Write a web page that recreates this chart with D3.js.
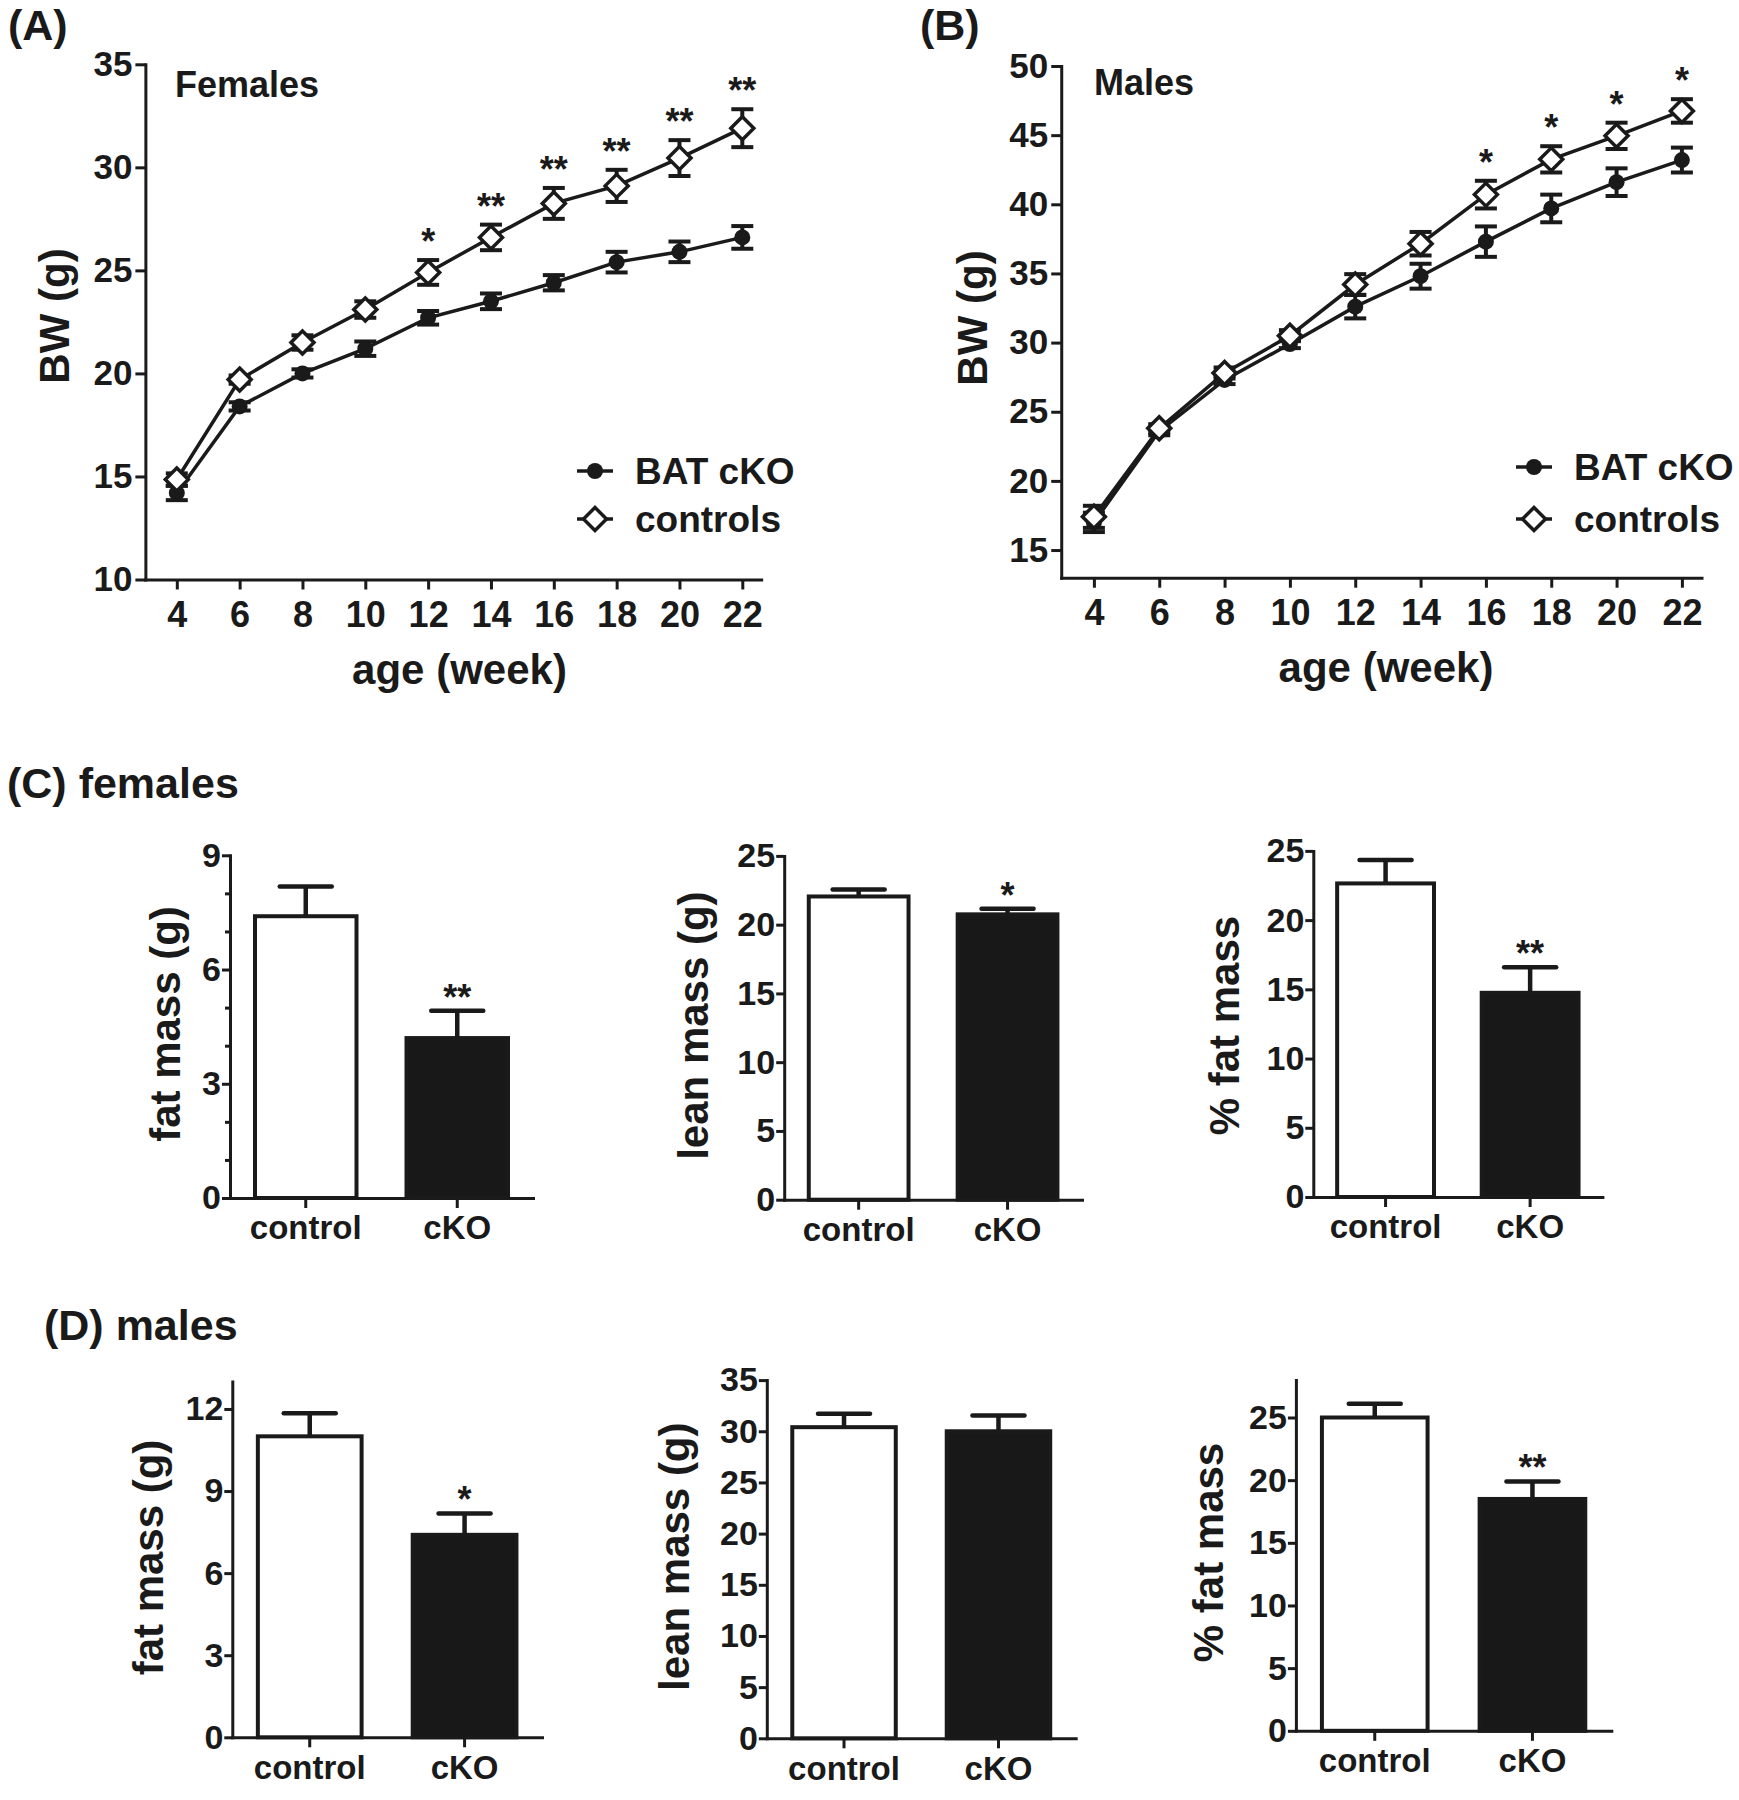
<!DOCTYPE html>
<html><head><meta charset="utf-8">
<script src="https://cdn.jsdelivr.net/npm/d3@7"></script>
<style>
body{margin:0;background:#fff;}
svg text{font-family:"Liberation Sans",Arial,Helvetica,sans-serif;font-weight:bold;fill:#1a1a1a;}
</style></head><body>
<svg id="fig" width="1739" height="1800"></svg>
<script>
// ---------- data ----------
const weeks=[4,6,8,10,12,14,16,18,20,22];
const femaleCKO=[14.2,18.4,20.0,21.2,22.7,23.5,24.4,25.4,25.9,26.6];
const femaleCKOErr=[0.35,0.2,0.2,0.35,0.33,0.38,0.37,0.5,0.5,0.55];
const femaleCtrl=[14.85,19.7,21.5,23.1,24.9,26.6,28.25,29.1,30.45,31.9];
const femaleCtrlErr=[0.3,0.2,0.35,0.4,0.6,0.62,0.75,0.78,0.87,0.92];
const femaleSig=["","","","","*","**","**","**","**","**"];
const maleCKO=[17.0,23.6,27.3,29.9,32.6,34.8,37.3,39.7,41.6,43.2];
const maleCKOErr=[0.7,0.3,0.3,0.3,0.85,0.9,1.1,1.0,1.0,0.9];
const maleCtrl=[17.4,23.8,27.8,30.5,34.2,37.15,40.7,43.25,44.95,46.75];
const maleCtrlErr=[0.8,0.3,0.4,0.4,0.75,0.85,1.0,0.95,0.95,0.85];
const maleSig=["","","","","","","*","*","*","*"];
const weekDomain=[3,22.6];
const femaleYTicks=[10,15,20,25,30,35];
const maleYTicks=[15,20,25,30,35,40,45,50];
const legendLabels=["BAT cKO","controls"];

const groups=["control","cKO"];
const femaleFat=[7.4,4.2], femaleFatErr=[0.78,0.72], femaleFatSig=["","**"];
const femaleLean=[22.05,20.75], femaleLeanErr=[0.5,0.4], femaleLeanSig=["","*"];
const femalePct=[22.65,14.75], femalePctErr=[1.7,1.85], femalePctSig=["","**"];
const maleFat=[11.0,7.4], maleFatErr=[0.84,0.78], maleFatSig=["","*"];
const maleLean=[30.4,30.0], maleLeanErr=[1.3,1.55], maleLeanSig=["",""];
const malePct=[25.0,18.5], malePctErr=[1.1,1.4], malePctSig=["","**"];

// ---------- drawing ----------
const INK="#1a1a1a";
const svg=d3.select("#fig");

function styleAxis(g,fs,w){
  g.attr("font-size",fs);
  g.select(".domain").attr("stroke",INK).attr("stroke-width",w).attr("stroke-linecap","square");
  g.selectAll(".tick line").attr("stroke",INK).attr("stroke-width",w);
  g.selectAll(".tick text").attr("fill",INK);
}
function txt(x,y,s,fs,anchor){
  return svg.append("text").attr("x",x).attr("y",y).attr("font-size",fs)
    .attr("text-anchor",anchor||"start").text(s);
}
function vtxt(cx,cy,s,fs){
  svg.append("text").attr("transform",`translate(${cx},${cy}) rotate(-90)`)
    .attr("text-anchor","middle").attr("dy","0.35em").attr("font-size",fs).text(s);
}

function linePanel(o){
  // o.x4 / o.x22: pixel positions of week 4 and week 22
  const pw=(o.x22-o.x4)/18;
  const x=d3.scaleLinear().domain(weekDomain)
    .range([o.x4+(weekDomain[0]-4)*pw, o.x4+(weekDomain[1]-4)*pw]);
  const left=x(weekDomain[0]), right=x(weekDomain[1]);
  const y=d3.scaleLinear().domain(o.yDomain).range([o.bottom,o.top]);
  const g=svg.append("g");
  const series=[
    {v:o.cko,e:o.ckoErr,type:"circle"},
    {v:o.ctrl,e:o.ctrlErr,type:"diamond"}
  ];
  const line=d3.line().x((d,i)=>x(weeks[i])).y(d=>y(d));
  series.forEach(s=>{
    g.append("path").datum(s.v).attr("d",line).attr("fill","none")
      .attr("stroke",INK).attr("stroke-width",3.5);
  });
  series.forEach(s=>{
    const eb=g.append("g");
    s.v.forEach((m,i)=>{
      const cx=x(weeks[i]);
      eb.append("line").attr("x1",cx).attr("x2",cx).attr("y1",y(m-s.e[i])).attr("y2",y(m+s.e[i]))
        .attr("stroke",INK).attr("stroke-width",4);
      [m-s.e[i],m+s.e[i]].forEach(v=>eb.append("line").attr("x1",cx-11).attr("x2",cx+11)
        .attr("y1",y(v)).attr("y2",y(v)).attr("stroke",INK).attr("stroke-width",4));
    });
  });
  const diamond=(cx,cy,r)=>`M${cx},${cy-r}L${cx+r},${cy}L${cx},${cy+r}L${cx-r},${cy}Z`;
  series.forEach(s=>{
    s.v.forEach((m,i)=>{
      const cx=x(weeks[i]), cy=y(m);
      if(s.type==="circle") g.append("circle").attr("cx",cx).attr("cy",cy).attr("r",8).attr("fill",INK);
      else g.append("path").attr("d",diamond(cx,cy,11.5)).attr("fill","#fff").attr("stroke",INK).attr("stroke-width",3.5);
    });
  });
  // significance
  o.sig.forEach((s,i)=>{
    if(!s) return;
    g.append("text").attr("x",x(weeks[i])).attr("y",y(o.ctrl[i]+o.ctrlErr[i])-6)
      .attr("text-anchor","middle").attr("font-size",36).text(s);
  });
  // axes
  const xa=svg.append("g").attr("transform",`translate(0,${o.bottom})`)
    .call(d3.axisBottom(x).tickValues(weeks).tickSize(10).tickSizeOuter(0).tickPadding(12));
  styleAxis(xa,36,3);
  const ya=svg.append("g").attr("transform",`translate(${left},0)`)
    .call(d3.axisLeft(y).tickValues(o.yTicks).tickSize(10).tickSizeOuter(0).tickPadding(3));
  styleAxis(ya,35,3);
  // labels
  txt(o.ageX,o.bottom+104,"age (week)",42,"middle");
  vtxt(o.ylabX,o.ylabY,"BW (g)",42);
  txt(o.panelX,40,o.panel,43);
  txt(o.titleX,o.titleY,o.title,36);
  // legend
  const lg=svg.append("g");
  [0,1].forEach(k=>{
    const ly=o.legY[k];
    lg.append("line").attr("x1",o.legX).attr("x2",o.legX+36).attr("y1",ly).attr("y2",ly)
      .attr("stroke",INK).attr("stroke-width",3.5);
    const mx=o.legX+18;
    if(k===0) lg.append("circle").attr("cx",mx).attr("cy",ly).attr("r",8).attr("fill",INK);
    else lg.append("path").attr("d",diamond(mx,ly,11.5)).attr("fill","#fff").attr("stroke",INK).attr("stroke-width",3.5);
    lg.append("text").attr("x",o.legX+58).attr("y",ly+13).attr("font-size",37).text(legendLabels[k]);
  });
}

linePanel({x4:176.8,x22:742.3,top:64.3,bottom:579.5,yDomain:[10,35],yTicks:femaleYTicks,
  cko:femaleCKO,ckoErr:femaleCKOErr,ctrl:femaleCtrl,ctrlErr:femaleCtrlErr,sig:femaleSig,
  ageX:459.5,ylabX:54,ylabY:316,panel:"(A)",panelX:8,title:"Females",titleX:175,titleY:97,
  legX:577,legY:[471,519]});
linePanel({x4:1093.9,x22:1681.9,top:66,bottom:577.7,yDomain:[13,50],yTicks:maleYTicks,
  cko:maleCKO,ckoErr:maleCKOErr,ctrl:maleCtrl,ctrlErr:maleCtrlErr,sig:maleSig,
  ageX:1386,ylabX:972.5,ylabY:318,panel:"(B)",panelX:920,title:"Males",titleX:1094,titleY:95,
  legX:1516,legY:[467,519]});

function barPanel(o){
  const x=d3.scaleBand().domain(groups).range([o.left,o.right]).paddingInner(0.33).paddingOuter(0.165);
  const y=d3.scaleLinear().domain(o.yDomain).range([o.bottom,o.top]);
  const g=svg.append("g");
  const bw=x.bandwidth();
  groups.forEach((k,i)=>{
    const v=o.vals[i], e=o.errs[i], cx=x(k)+bw/2;
    g.append("line").attr("x1",cx).attr("x2",cx).attr("y1",y(v)).attr("y2",y(v+e))
      .attr("stroke",INK).attr("stroke-width",4.5);
    g.append("line").attr("x1",cx-26).attr("x2",cx+26).attr("y1",y(v+e)).attr("y2",y(v+e))
      .attr("stroke",INK).attr("stroke-width",4.5).attr("stroke-linecap","round");
    g.append("rect").attr("x",x(k)).attr("width",bw).attr("y",y(v)).attr("height",y(o.yDomain[0])-y(v))
      .attr("fill",i===0?"#fff":"#181818").attr("stroke",INK).attr("stroke-width",4);
    if(o.sig[i]) g.append("text").attr("x",cx).attr("y",y(v+e)-1).attr("text-anchor","middle")
      .attr("font-size",36).text(o.sig[i]);
  });
  if(o.minor){
    const ma=svg.append("g").attr("transform",`translate(${o.left},0)`)
      .call(d3.axisLeft(y).tickValues(o.minor).tickSize(5).tickFormat(""));
    ma.select(".domain").remove();
    ma.selectAll(".tick line").attr("stroke",INK).attr("stroke-width",3);
  }
  const ya=svg.append("g").attr("transform",`translate(${o.left},0)`)
    .call(d3.axisLeft(y).tickValues(o.yTicks).tickSize(8).tickSizeOuter(0).tickPadding(1));
  styleAxis(ya,34,3);
  const xa=svg.append("g").attr("transform",`translate(0,${o.bottom})`)
    .call(d3.axisBottom(x).tickSize(10).tickSizeOuter(0).tickPadding(8));
  styleAxis(xa,33,3);
  vtxt(o.labX,o.labY,o.label,42);
}

barPanel({left:230,right:533,top:855.3,bottom:1198,yDomain:[0,9],yTicks:[0,3,6,9],minor:[1,2,4,5,7,8],
  vals:femaleFat,errs:femaleFatErr,sig:femaleFatSig,label:"fat mass (g)",labX:165,labY:1024});
barPanel({left:784.2,right:1082,top:855.9,bottom:1199.7,yDomain:[0,25],yTicks:[0,5,10,15,20,25],
  vals:femaleLean,errs:femaleLeanErr,sig:femaleLeanSig,label:"lean mass (g)",labX:692.8,labY:1025.6});
barPanel({left:1313.3,right:1602.4,top:850.9,bottom:1197,yDomain:[0,25],yTicks:[0,5,10,15,20,25],
  vals:femalePct,errs:femalePctErr,sig:femalePctSig,label:"% fat mass",labX:1224.6,labY:1025.6});
barPanel({left:232.3,right:542,top:1381.6,bottom:1737.3,yDomain:[0,13],yTicks:[0,3,6,9,12],
  vals:maleFat,errs:maleFatErr,sig:maleFatSig,label:"fat mass (g)",labX:148,labY:1557.5});
barPanel({left:766.8,right:1075.7,top:1380.1,bottom:1738.3,yDomain:[0,35],yTicks:[0,5,10,15,20,25,30,35],
  vals:maleLean,errs:maleLeanErr,sig:maleLeanSig,label:"lean mass (g)",labX:674.3,labY:1556.7});
barPanel({left:1295.9,right:1611.3,top:1379.9,bottom:1730.8,yDomain:[0,28],yTicks:[0,5,10,15,20,25],
  vals:malePct,errs:malePctErr,sig:malePctSig,label:"% fat mass",labX:1208,labY:1552.5});

txt(7,798,"(C) females",43);
txt(44,1340,"(D) males",43);
</script>
</body></html>
